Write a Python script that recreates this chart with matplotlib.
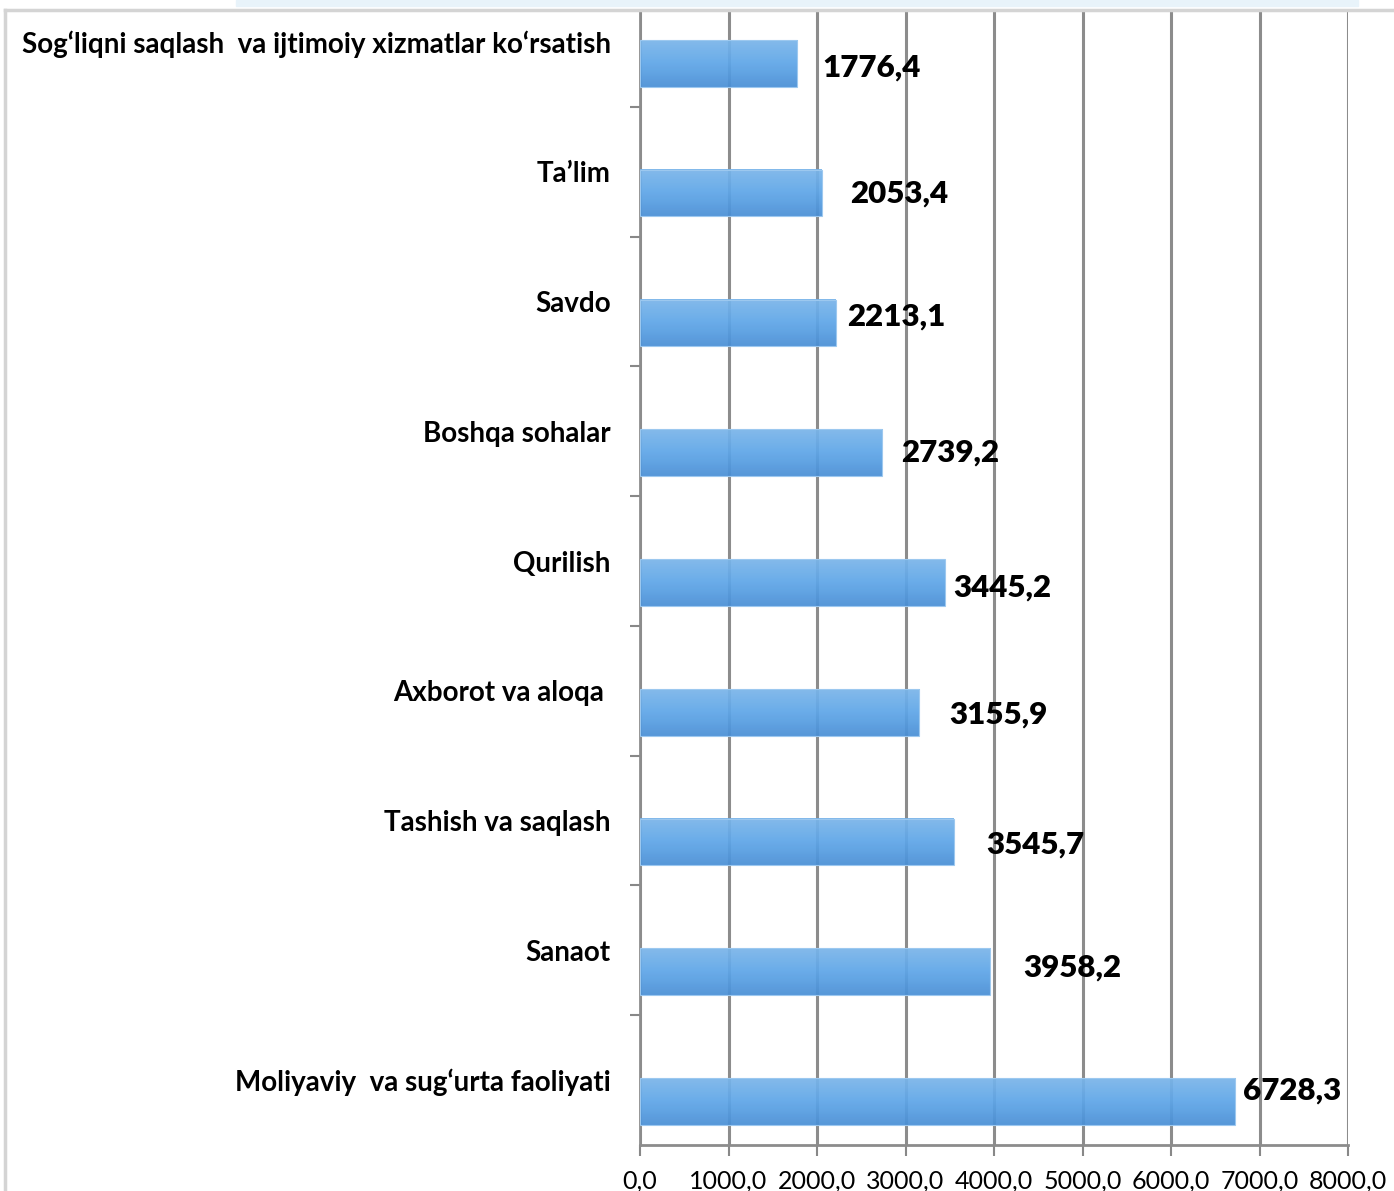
import matplotlib.pyplot as plt
import numpy as np
from matplotlib.patches import Rectangle
from matplotlib.lines import Line2D
from matplotlib.colors import LinearSegmentedColormap

# categories from bottom to top
categories = [
    "Moliyaviy  va sug\u2018urta faoliyati",
    "Sanaot",
    "Tashish va saqlash",
    "Axborot va aloqa ",
    "Qurilish",
    "Boshqa sohalar",
    "Savdo",
    "Ta\u2019lim",
    "Sog\u2018liqni saqlash  va ijtimoiy xizmatlar ko\u2018rsatish",
]
values = [6728.3, 3958.2, 3545.7, 3155.9, 3445.2, 2739.2, 2213.1, 2053.4, 1776.4]
value_labels = ["6728,3", "3958,2", "3545,7", "3155,9", "3445,2", "2739,2", "2213,1", "2053,4", "1776,4"]
x_ticks = [0, 1000, 2000, 3000, 4000, 5000, 6000, 7000, 8000]
x_tick_labels = ["0,0", "1000,0", "2000,0", "3000,0", "4000,0", "5000,0", "6000,0", "7000,0", "8000,0"]

# label nudges (data units) to mimic the hand placed labels
label_dx = [90, 370, 370, 340, 100, 210, 130, 320, 280]
label_dy = [0.085, 0.03, -0.02, -0.02, -0.04, 0.0, 0.05, 0.0, -0.03]

plt.rcParams['font.family'] = ['Lato', 'DejaVu Sans']

fig = plt.figure(figsize=(13.94, 11.91), dpi=100)

# outer chart frame
fig.patches.append(Rectangle((236 / 1394, 1 - 6 / 1191), (1358 - 236) / 1394, 6 / 1191,
                             transform=fig.transFigure, color='#e8f3fa', zorder=0))
fig.lines.append(Line2D([5 / 1394, 1], [1 - 10 / 1191, 1 - 10 / 1191], transform=fig.transFigure,
                        color='#d4d4d4', lw=2.5))
fig.lines.append(Line2D([5 / 1394, 5 / 1394], [0, 1 - 10 / 1191], transform=fig.transFigure,
                        color='#d4d4d4', lw=2.5))

ax = fig.add_axes([640 / 1394, 46 / 1191, 708 / 1394, 1134 / 1191])

n = len(categories)
pos = np.arange(n)
bar_h = 0.36
shift = -0.165  # bars sit in the lower part of each category band

grad = np.linspace(0, 1, 64).reshape(-1, 1)
cmap = LinearSegmentedColormap.from_list('bar', ['#4a8fd6', '#5ea6e8', '#7ab5ea'])

for i, v in enumerate(values):
    y0 = pos[i] + shift - bar_h / 2
    ax.imshow(grad, extent=(0, v, y0, y0 + bar_h), origin='lower', cmap=cmap,
              aspect='auto', zorder=3, alpha=0.93)
    ax.add_patch(Rectangle((0, y0), v, bar_h, fill=False, edgecolor='#9cc8ef', lw=0.8, zorder=3))
    ax.text(v + label_dx[i], pos[i] + shift + label_dy[i], value_labels[i], fontsize=22.5,
            fontweight='heavy', va='center', ha='left', color='black', zorder=5)

ax.set_xticks(x_ticks)
ax.set_xticklabels(x_tick_labels, fontsize=18)
ax.set_yticks(pos)
ax.set_yticklabels(categories, fontsize=20, fontweight='bold')
ax.set_yticks(np.arange(n) + 0.5, minor=True)
ax.tick_params(axis='y', which='major', length=0, pad=21)
ax.tick_params(axis='y', which='minor', length=7, width=1.5, color='#888888')
ax.tick_params(axis='x', length=8, width=1.5, color='#888888', pad=10)

ax.set_xlim(0, 8000)
ax.set_ylim(-0.5, n - 0.5 - 34 / 130)

ax.grid(axis='x', color='#8c8c8c', lw=2.2, zorder=1)
ax.set_axisbelow(True)
for s in ['top', 'right']:
    ax.spines[s].set_visible(False)
for s in ['left', 'bottom']:
    ax.spines[s].set_color('#8c8c8c')
    ax.spines[s].set_linewidth(2)

fig.savefig('out.png', dpi=100)
